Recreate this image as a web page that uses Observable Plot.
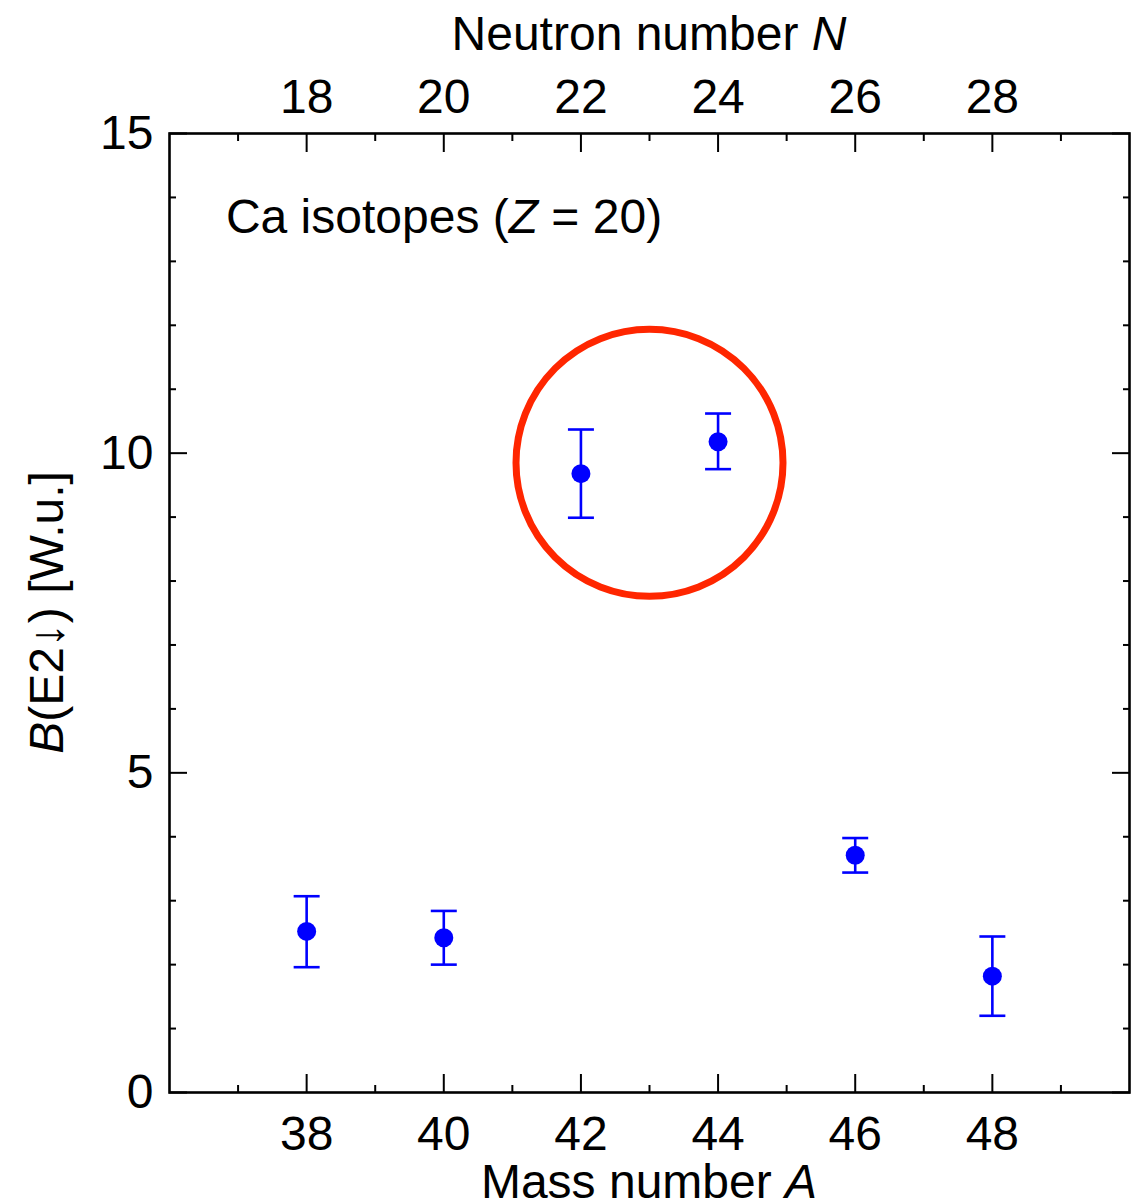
<!DOCTYPE html>
<html>
<head>
<meta charset="utf-8">
<script src="https://cdn.jsdelivr.net/npm/d3@7"></script>
<script src="https://cdn.jsdelivr.net/npm/@observablehq/plot@0.6"></script>
<style>
  html, body { margin: 0; padding: 0; background: #fff; }
  #chart svg { display: block; }
</style>
</head>
<body>
<div id="chart"></div>
<script>
// ---- data ----
const massNumbers = [38, 40, 42, 44, 46, 48];
const bE2        = [2.52, 2.42, 9.68, 10.18, 3.71, 1.82];
const bE2Upper   = [3.07, 2.84, 10.37, 10.62, 3.98, 2.44];
const bE2Lower   = [1.96, 2.00, 8.99, 9.75, 3.44, 1.20];
const protonNumber = 20;

const massTicks      = [38, 40, 42, 44, 46, 48];
const massMinorTicks = [37, 39, 41, 43, 45, 47, 49];
const neutronTicks   = [18, 20, 22, 24, 26, 28];
const neutronMinor   = [17, 19, 21, 23, 25, 27, 29];
const yTicks         = [0, 5, 10, 15];
const yMinorTicks    = [1, 2, 3, 4, 6, 7, 8, 9, 11, 12, 13, 14];

const highlightA = [43];
const highlightB = [9.85];
const annotationA = 36.83;
const annotationB = 13.44;

// ---- build ----
const data = massNumbers.map((A, i) => ({A, B: bE2[i], lo: bE2Lower[i], hi: bE2Upper[i]}));
const highlight = highlightA.map((A, i) => ({A, B: highlightB[i]}));

const blue = "#0000ff";
const red = "#ff2600";
const font = "'Liberation Sans', Arimo, Helvetica, Arial, sans-serif";
const fs = 48;

const capSymbol = {
  draw(ctx, size) {
    const r = Math.sqrt(size / Math.PI);
    ctx.moveTo(-r, 0);
    ctx.lineTo(r, 0);
  }
};

const blank = () => "";

const plot = Plot.plot({
  width: 1148,
  height: 1203,
  marginLeft: 169,
  marginRight: 19,
  marginTop: 133,
  marginBottom: 111,
  x: {domain: [36, 50]},
  y: {domain: [0, 15]},
  style: {fontFamily: font, fontSize: fs + "px", color: "black", background: "white", overflow: "visible"},
  marks: [
    // bottom axis
    Plot.axisX(massTicks, {anchor: "bottom", tickSize: -18, tickPadding: 41, strokeWidth: 2, tickFormat: d => String(d), label: null}),
    Plot.axisX(massMinorTicks, {anchor: "bottom", tickSize: -7, strokeWidth: 2, tickFormat: blank, label: null}),
    // top axis (neutron number N = A - Z)
    Plot.axisX(neutronTicks.map(n => n + protonNumber), {anchor: "top", tickSize: -18, tickPadding: 39, strokeWidth: 2, tickFormat: d => String(d - protonNumber), label: null}),
    Plot.axisX(neutronMinor.map(n => n + protonNumber), {anchor: "top", tickSize: -7, strokeWidth: 2, tickFormat: blank, label: null}),
    // left axis
    Plot.axisY(yTicks, {anchor: "left", tickSize: -18, tickPadding: 34, strokeWidth: 2, tickFormat: d => String(d), label: null}),
    Plot.axisY(yMinorTicks, {anchor: "left", tickSize: -7, strokeWidth: 2, tickFormat: blank, label: null}),
    // right axis
    Plot.axisY(yTicks, {anchor: "right", tickSize: -18, strokeWidth: 2, tickFormat: blank, label: null}),
    Plot.axisY(yMinorTicks, {anchor: "right", tickSize: -7, strokeWidth: 2, tickFormat: blank, label: null}),
    Plot.frame({stroke: "black", strokeWidth: 2.6}),
    // highlight circle
    Plot.dot(highlight, {x: "A", y: "B", r: 133.5, stroke: red, strokeWidth: 7, fill: "none"}),
    // error bars
    Plot.ruleX(data, {x: "A", y1: "lo", y2: "hi", stroke: blue, strokeWidth: 2.6}),
    Plot.dot(data, {x: "A", y: "lo", r: 13, symbol: capSymbol, stroke: blue, strokeWidth: 2.6, fill: "none"}),
    Plot.dot(data, {x: "A", y: "hi", r: 13, symbol: capSymbol, stroke: blue, strokeWidth: 2.6, fill: "none"}),
    Plot.dot(data, {x: "A", y: "B", r: 9.5, fill: blue, stroke: "none"})
  ]
});

document.getElementById("chart").appendChild(plot);

// ---- labels with italic parts ----
const svg = d3.select(plot);
const xs = plot.scale("x");
const ys = plot.scale("y");
const cx = (xs.apply(36) + xs.apply(50)) / 2;
const cy = (ys.apply(0) + ys.apply(15)) / 2;

function richText(sel, parts) {
  parts.forEach(([t, italic]) => {
    const ts = sel.append("tspan").text(t);
    if (italic) ts.attr("font-style", "italic");
  });
  return sel;
}

richText(svg.append("text")
  .attr("x", cx).attr("y", 50)
  .attr("text-anchor", "middle")
  .attr("fill", "black")
  .attr("font-size", fs), [["Neutron number ", false], ["N", true]]);

richText(svg.append("text")
  .attr("x", cx).attr("y", 1198)
  .attr("text-anchor", "middle")
  .attr("fill", "black")
  .attr("font-size", fs), [["Mass number ", false], ["A", true]]);

richText(svg.append("text")
  .attr("transform", `translate(63,${cy}) rotate(-90)`)
  .attr("text-anchor", "middle")
  .attr("fill", "black")
  .attr("font-size", fs), [["B", true], ["(E2\u2193) [W.u.]", false]]);

richText(svg.append("text")
  .attr("x", xs.apply(annotationA)).attr("y", ys.apply(annotationB))
  .attr("text-anchor", "start")
  .attr("fill", "black")
  .attr("font-size", fs), [["Ca isotopes (", false], ["Z", true], [" = 20)", false]]);
</script>
</body>
</html>
